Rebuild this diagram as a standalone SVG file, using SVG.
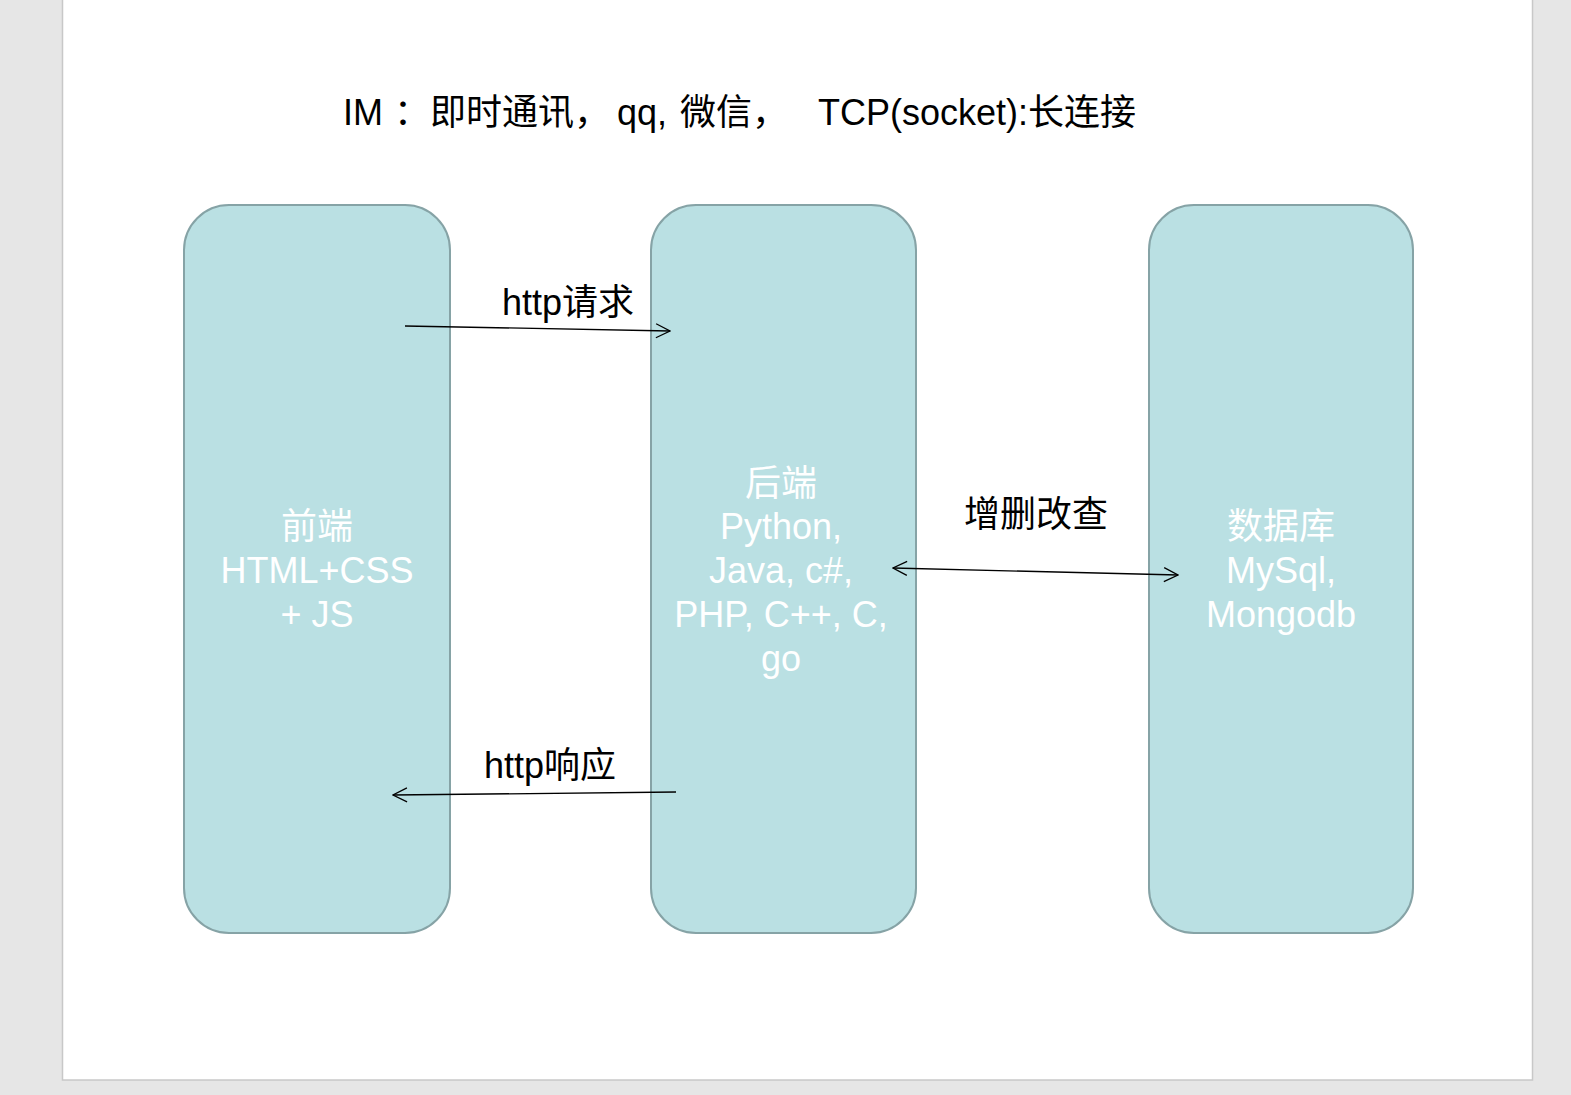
<svg xmlns="http://www.w3.org/2000/svg" width="1571" height="1095" viewBox="0 0 1571 1095">
<defs>
<style>
.box{fill:#BAE0E3;stroke:#86A3A6;stroke-width:2}
.lbl{font-family:"Liberation Sans","Noto Sans CJK SC",sans-serif;font-size:36px;fill:#ffffff;text-anchor:middle}
.txt{font-family:"Liberation Sans","Noto Sans CJK SC",sans-serif;fill:#000000}
.conn{stroke:#000000;stroke-width:1.3;fill:none}
</style>
<marker id="ah" viewBox="0 0 16 16" refX="15" refY="8" markerWidth="16" markerHeight="16" markerUnits="userSpaceOnUse" orient="auto-start-reverse">
<path d="M1,1 L15,8 L1,15" fill="none" stroke="#000" stroke-width="1.3"/>
</marker>
</defs>
<rect x="0" y="0" width="1571" height="1095" fill="#E6E6E6"/>
<rect x="62.5" y="-2" width="1470" height="1082" fill="#ffffff" stroke="#C8C8C8" stroke-width="1.5"/>
<text class="txt" font-size="36" y="125"><tspan x="343">IM</tspan><tspan x="394">：即时通讯，</tspan><tspan x="617">qq,</tspan><tspan x="680">微信，</tspan><tspan x="818">TCP(socket):长连接</tspan></text>
<g id="frontend">
<rect class="box" x="184" y="205" width="266" height="728" rx="45" ry="45"/>
<text class="lbl"><tspan x="317" y="539">前端</tspan><tspan x="317" y="583">HTML+CSS</tspan><tspan x="317" y="627">+ JS</tspan></text>
</g>
<g id="backend">
<rect class="box" x="651" y="205" width="265" height="728" rx="45" ry="45"/>
<text class="lbl"><tspan x="781" y="496">后端</tspan><tspan x="781" y="539">Python,</tspan><tspan x="781" y="583">Java, c#,</tspan><tspan x="781" y="627">PHP, C++, C,</tspan><tspan x="781" y="671">go</tspan></text>
</g>
<g id="database">
<rect class="box" x="1149" y="205" width="264" height="728" rx="45" ry="45"/>
<text class="lbl"><tspan x="1281" y="539">数据库</tspan><tspan x="1281" y="583">MySql,</tspan><tspan x="1281" y="627">Mongodb</tspan></text>
</g>
<g id="connectors">
<line class="conn" x1="405" y1="326" x2="670" y2="331" marker-end="url(#ah)"/>
<line class="conn" x1="676" y1="792" x2="393" y2="795" marker-end="url(#ah)"/>
<line class="conn" x1="893" y1="568" x2="1178" y2="575" marker-start="url(#ah)" marker-end="url(#ah)"/>
<text class="txt" font-size="36" x="502" y="315">http请求</text>
<text class="txt" font-size="36" x="484" y="778">http响应</text>
<text class="txt" font-size="36" x="964" y="527">增删改查</text>
</g>
</svg>
